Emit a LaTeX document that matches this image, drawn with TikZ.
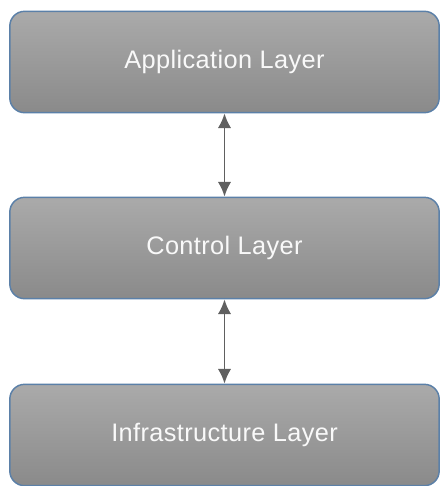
\documentclass[tikz,border=0pt]{standalone}
\usepackage{fontspec}
\setmainfont{Liberation Sans}
\usetikzlibrary{arrows.meta}

\definecolor{layerrim}{HTML}{5B80A8}
\definecolor{layertop}{HTML}{AAAAAA}
\definecolor{layerbot}{HTML}{8A8A8A}
\definecolor{linkgray}{HTML}{606060}

\begin{document}
\begin{tikzpicture}[x=.75pt, y=-.75pt,
  layer/.style={draw=layerrim, line width=1.1pt, rounded corners=11pt,
    top color=layertop, bottom color=layerbot,
    minimum width=322pt, minimum height=76pt,
    text=white!95!gray,
    font=\fontsize{19}{21}\selectfont\addfontfeature{LetterSpace=1.5}},
  link/.style={draw=linkgray, line width=1.4pt,
    {Latex[length=11pt,width=10pt]}-{Latex[length=11pt,width=10pt]}}]

\useasboundingbox (0,0) rectangle (441,486);

\node[layer] (app)   at (224.5,62)  {Application Layer};
\node[layer] (ctrl)  at (224.5,248) {Control Layer};
\node[layer] (infra) at (224.5,435) {Infrastructure Layer};

\draw[link] (app.south)  -- (ctrl.north);
\draw[link] (ctrl.south) -- (infra.north);

\end{tikzpicture}
\end{document}
